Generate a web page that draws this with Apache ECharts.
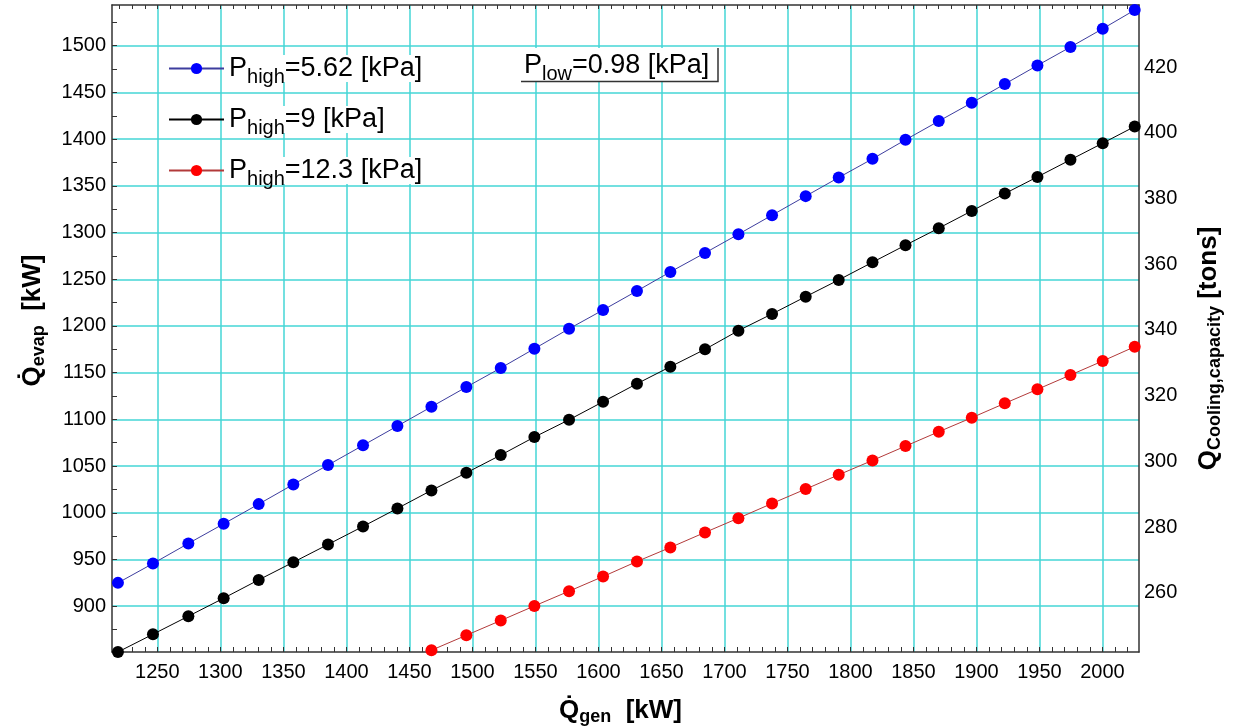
<!DOCTYPE html>
<html><head><meta charset="utf-8">
<script src="https://cdn.jsdelivr.net/npm/echarts@6/dist/echarts.min.js"></script>
<style>html,body{margin:0;padding:0;background:#fff}#c{width:1235px;height:728px}</style>
</head><body><div id="c"></div>
<script>
// ---- data ----
const qGen = [1218.7, 1246.5, 1274.6, 1302.6, 1330.4, 1357.9, 1385.4, 1413.2, 1440.5, 1467.5,
  1495.2, 1522.5, 1549.2, 1576.7, 1603.7, 1630.6, 1657.1, 1684.6, 1711.1, 1737.8,
  1764.5, 1790.7, 1817.5, 1843.7, 1870.1, 1896.3, 1922.5, 1948.4, 1974.6, 2000.2, 2025.6];
const qEvapP562 = [925.0, 945.7, 967.2, 988.2, 1009.3, 1030.4, 1051.1, 1072.2, 1092.9, 1113.5,
  1134.6, 1155.0, 1175.7, 1197.0, 1217.1, 1237.5, 1257.9, 1278.2, 1298.2, 1318.6,
  1339.0, 1358.9, 1378.9, 1399.3, 1419.3, 1438.9, 1459.0, 1478.9, 1498.6, 1518.2, 1538.2];
const qEvapP9 = [851.0, 870.0, 889.3, 908.6, 928.2, 947.1, 966.1, 985.4, 1004.7, 1024.0,
  1042.8, 1061.8, 1081.1, 1099.6, 1118.9, 1138.2, 1156.4, 1175.0, 1195.0, 1212.9,
  1231.4, 1249.3, 1268.2, 1286.5, 1304.7, 1323.2, 1341.7, 1359.6, 1377.9, 1395.7, 1413.5];
const qEvapP123 = [null, null, null, null, null, null, null, null, null, 852.9,
  868.9, 884.7, 900.3, 916.1, 931.8, 947.9, 962.9, 979.0, 994.3, 1010.0,
  1025.4, 1040.7, 1056.1, 1071.4, 1086.8, 1101.8, 1117.2, 1132.2, 1147.5, 1162.5, 1177.8];
const seriesNames = ['P_high=5.62 [kPa]', 'P_high=9 [kPa]', 'P_high=12.3 [kPa]'];
const xTickLabels = [1250, 1300, 1350, 1400, 1450, 1500, 1550, 1600, 1650, 1700, 1750, 1800, 1850, 1900, 1950, 2000];
const yTickLabels = [900, 950, 1000, 1050, 1100, 1150, 1200, 1250, 1300, 1350, 1400, 1450, 1500];
const tonTickLabels = [260, 280, 300, 320, 340, 360, 380, 400, 420];
const X_MIN = 1214, X_MAX = 2029, Y_MIN = 851, Y_MAX = 1543.6;
const KW_PER_TON = 3.517;

const xMinor = []; for (let v = 1220; v <= 2020; v += 10) xMinor.push(v);
const yMinor = []; for (let v = 875; v <= 1525; v += 25) yMinor.push(v);

const FONT = '"Liberation Sans", Arial, Helvetica, sans-serif';
const AXIS_COLOR = '#333';
const GRID_COLOR = '#44d6d6';
const plainNum = v => String(Math.round(v));

const plainRich = {
  m: { fontFamily: FONT, fontSize: 27, lineHeight: 27, verticalAlign: 'top', color: '#000' },
  s: { fontFamily: FONT, fontSize: 20, lineHeight: 20, padding: [12, 0, 0, 0], verticalAlign: 'top', color: '#000' }
};
const boldRich = {
  m: { fontFamily: FONT, fontSize: 26, fontWeight: 'bold', lineHeight: 26, verticalAlign: 'top', color: '#000' },
  s: { fontFamily: FONT, fontSize: 18, fontWeight: 'bold', lineHeight: 18, padding: [10, 0, 0, 0], verticalAlign: 'top', color: '#000' }
};

function subName(n) {
  const i = n.indexOf('_');
  const rest = n.slice(i + 1);
  const j = rest.search(/[=\s]/);
  return '{m|' + n.slice(0, i) + '}{s|' + rest.slice(0, j) + '}{m|' + rest.slice(j) + '}';
}

const colors = [
  { line: '#3d3d9e', mark: '#0000ff' },
  { line: '#000000', mark: '#000000' },
  { line: '#b23a3a', mark: '#ff0000' }
];
const values = [qEvapP562, qEvapP9, qEvapP123];

const series = values.map((vals, k) => ({
  type: 'line',
  name: seriesNames[k],
  xAxisIndex: 0, yAxisIndex: 0,
  data: qGen.map((x, i) => [x, vals[i]]).filter(p => p[1] !== null),
  symbol: 'circle', symbolSize: 12, showSymbol: true,
  lineStyle: { color: colors[k].line, width: 1 },
  itemStyle: { color: colors[k].mark },
  clip: true, z: 5
}));

const tickAxisCommon = {
  type: 'value', axisLine: { show: false }, axisLabel: { show: false }, splitLine: { show: false },
};

const tickLabelStyle = { fontFamily: FONT, fontSize: 20, color: '#000', formatter: plainNum };

const option = {
  animation: false,
  backgroundColor: '#fff',
  grid: { left: 112, right: 96, top: 5, bottom: 76, containLabel: false, outerBoundsMode: 'none' },
  legend: {
    data: seriesNames, orient: 'vertical', left: 168, top: 55, padding: 0,
    itemWidth: 55, itemHeight: 14, itemGap: 19, selectedMode: false,
    formatter: subName,
    textStyle: { rich: plainRich, backgroundColor: '#fff' }
  },
  xAxis: [
    {
      type: 'value', position: 'bottom', min: X_MIN, max: X_MAX,
      axisLine: { show: true, onZero: false, lineStyle: { color: AXIS_COLOR, width: 1.5 } },
      axisTick: { show: false, customValues: xTickLabels },
      axisLabel: Object.assign({ customValues: xTickLabels, margin: 10 }, tickLabelStyle),
      splitLine: { show: true, lineStyle: { color: GRID_COLOR, width: 1.5 } },
      name: '{m|Q̇}{s|gen}{m|  [kW]}', nameLocation: 'middle', nameGap: 46, nameMoveOverlap: false,
      nameTextStyle: { rich: boldRich, padding: [0, 10, 0, 0] }
    },
    Object.assign({}, tickAxisCommon, {
      position: 'bottom', min: X_MIN, max: X_MAX,
      axisTick: { show: true, inside: true, length: 5, customValues: xMinor, lineStyle: { color: AXIS_COLOR, width: 1 } }
    }),
    Object.assign({}, tickAxisCommon, {
      position: 'top', min: X_MIN, max: X_MAX,
      axisLine: { show: true, onZero: false, lineStyle: { color: AXIS_COLOR, width: 1.5 } },
      axisTick: { show: true, inside: true, length: 4, customValues: xMinor, lineStyle: { color: AXIS_COLOR, width: 1 } }
    })
  ],
  yAxis: [
    {
      type: 'value', position: 'left', min: Y_MIN, max: Y_MAX,
      axisLine: { show: true, onZero: false, lineStyle: { color: AXIS_COLOR, width: 1.5 } },
      axisTick: { show: false, customValues: yTickLabels },
      axisLabel: Object.assign({ customValues: yTickLabels, margin: 6 }, tickLabelStyle),
      splitLine: { show: true, lineStyle: { color: GRID_COLOR, width: 1.5 } },
      name: '{m|Q̇}{s|evap}{m|  [kW]}', nameLocation: 'middle', nameRotate: 90, nameGap: 66, nameMoveOverlap: false,
      nameTextStyle: { rich: boldRich, padding: [0, 0, 0, 16] }
    },
    Object.assign({}, tickAxisCommon, {
      position: 'left', min: Y_MIN, max: Y_MAX,
      axisTick: { show: true, inside: true, length: 5, customValues: yMinor, lineStyle: { color: AXIS_COLOR, width: 1 } }
    }),
    {
      type: 'value', position: 'right', min: Y_MIN / KW_PER_TON, max: Y_MAX / KW_PER_TON,
      axisLine: { show: true, onZero: false, lineStyle: { color: AXIS_COLOR, width: 1.5 } },
      axisTick: { show: false, customValues: tonTickLabels },
      axisLabel: Object.assign({ customValues: tonTickLabels, margin: 5 }, tickLabelStyle),
      splitLine: { show: false },
      name: '{m|Q}{s|Cooling,capacity}{m| [tons]}', nameLocation: 'middle', nameRotate: 90, nameGap: 57, nameMoveOverlap: false,
      nameTextStyle: { rich: boldRich, padding: [0, 40, 0, 0] }
    }
  ],
  graphic: [
    { type: 'rect', z: 50, shape: { x: 521, y: 48, width: 197, height: 34 }, style: { fill: '#fff' } },
    { type: 'polyline', z: 51, shape: { points: [[521, 81.5], [718, 81.5], [718, 48]] }, style: { stroke: AXIS_COLOR, lineWidth: 1.5, fill: null } },
    { type: 'text', z: 52, x: 524, y: 52, style: { text: '{m|P}{s|low}{m|=0.98 [kPa]}', rich: plainRich } }
  ],
  series: series
};

const chart = echarts.init(document.getElementById('c'), null, { renderer: 'canvas' });
chart.setOption(option);
</script>
</body></html>
